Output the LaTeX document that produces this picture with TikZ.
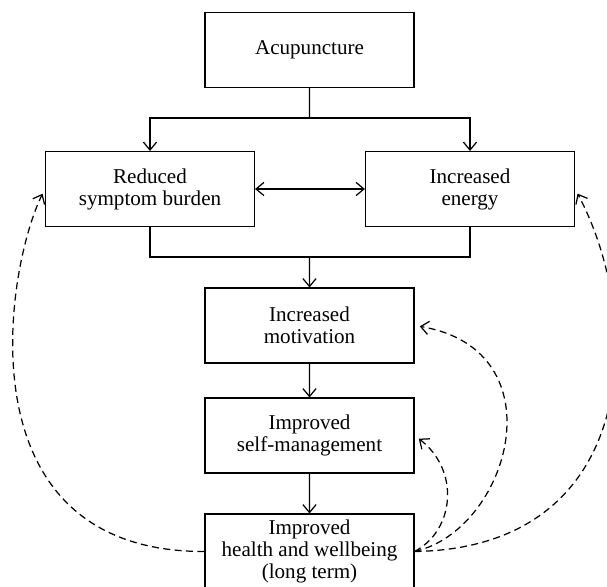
\documentclass[tikz,border=0pt]{standalone}
\usepackage{fontspec}
\setmainfont{Liberation Serif}
\usetikzlibrary{arrows.meta}

\begin{document}
\begin{tikzpicture}[scale=0.2, line width=0.7pt, >={Straight Barb[length=4.5pt,width=7.5pt]}]
      \tikzstyle{every node}+=[inner sep=0pt, font=\fontsize{12}{12.5}\selectfont]
      \tikzstyle{box}=[draw, black, align=center, minimum width=118.9pt, minimum height=42.6pt]
      \tikzstyle{back}=[->, black, dash pattern=on 4pt off 2.5pt, shorten >=3pt]
      \useasboundingbox (0,0) rectangle (60.7,-58.6);
      \node [box] (acu) at (30.95,-5.0) {Acupuncture};
      \node [box] (sym) at (15.0,-18.9) {Reduced\\symptom burden};
      \node [box] (energy) at (47.0,-18.9) {Increased\\energy};
      \node [box] (motiv) at (30.95,-32.55) {Increased\\motivation};
      \node [box] (selfm) at (30.95,-43.55) {Improved\\self-management};
      \node [box] (health) at (30.95,-55.15) {Improved\\health and wellbeing\\(long term)};
      \coordinate (split) at (30.95,-11.8);
      \coordinate (join) at (30.95,-25.7);
      \draw [black] (acu) -- (split);
      \draw [black, <->] (sym) |- (split) -| (energy);
      \draw [black, <->] (sym) -- (energy);
      \draw [black] (sym) |- (join) -| (energy);
      \draw [black, ->] (join) -- (motiv);
      \draw [black, ->] (motiv) -- (selfm);
      \draw [black, ->] (selfm) -- (health);
      \draw [back] (health.west) .. controls (-4,-55.2) and (0.5,-27.0) .. (sym.west);
      \draw [back] (health.east) .. controls (45.5,-53.0) and (46.0,-47.0) .. (selfm.east);
      \draw [back] (health.east) .. controls (51.0,-53.0) and (56.0,-35.0) .. (motiv.east);
      \draw [back] (health.east) .. controls (64.0,-54.8) and (64.5,-32.0) .. (energy.east);
    \end{tikzpicture}
\end{document}
